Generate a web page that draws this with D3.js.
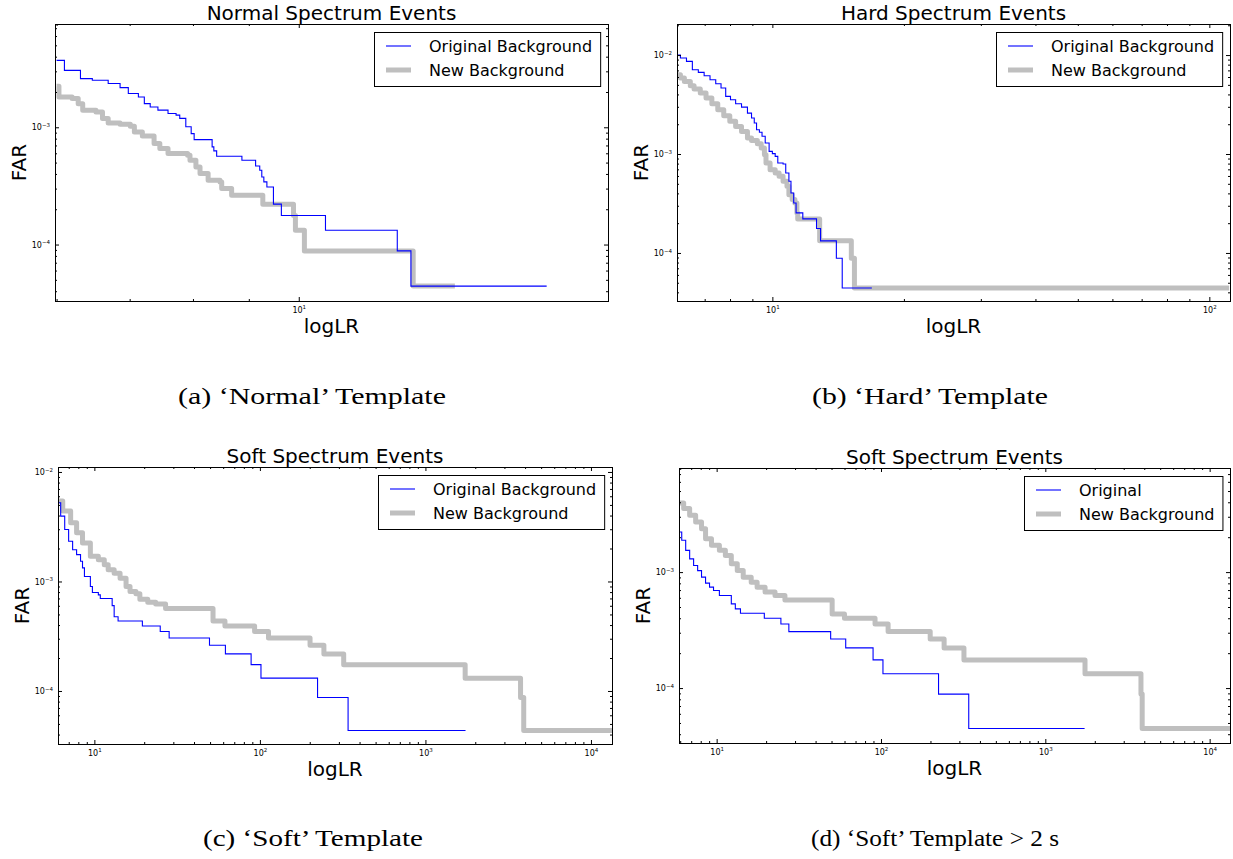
<!DOCTYPE html>
<html>
<head>
<meta charset="utf-8">
<script src="https://cdn.jsdelivr.net/npm/d3@7"></script>
<style>
body { margin: 0; background: #fff; }
svg { display: block; }
</style>
</head>
<body>
<svg id="fig" width="1233" height="859"></svg>
<script>
// [logLR, FAR] pairs, drawn as steps
var normalOriginal = [[6.00,3.72e-3],[6.10,3.06e-3],[6.31,2.60e-3],[6.47,2.52e-3],[6.69,2.36e-3],[6.86,2.18e-3],[6.98,1.94e-3],[7.13,1.81e-3],[7.22,1.59e-3],[7.31,1.49e-3],[7.43,1.40e-3],[7.59,1.31e-3],[7.72,1.27e-3],[7.78,1.19e-3],[7.88,1.01e-3],[7.97,8.83e-4],[8.02,7.85e-4],[8.33,6.80e-4],[8.36,6.29e-4],[8.41,5.66e-4],[8.87,5.23e-4],[9.13,4.68e-4],[9.21,4.30e-4],[9.25,3.77e-4],[9.29,3.42e-4],[9.35,3.10e-4],[9.48,2.21e-4],[9.64,1.77e-4],[10.58,1.325e-4],[12.31,8.83e-5],[12.67,4.42e-5],[16.87,4.42e-5]];
var normalNew = [[6.00,2.24e-3],[6.03,1.81e-3],[6.20,1.76e-3],[6.28,1.59e-3],[6.34,1.40e-3],[6.52,1.35e-3],[6.61,1.19e-3],[6.69,1.09e-3],[6.86,1.06e-3],[7.01,1.02e-3],[7.07,9.12e-4],[7.19,8.44e-4],[7.37,7.26e-4],[7.46,6.58e-4],[7.59,5.97e-4],[7.91,5.77e-4],[7.95,5.23e-4],[8.05,4.59e-4],[8.12,4.03e-4],[8.26,3.53e-4],[8.47,3.42e-4],[8.50,3.00e-4],[8.68,2.63e-4],[9.27,2.21e-4],[9.89,1.77e-4],[9.93,1.325e-4],[10.12,8.83e-5],[12.73,4.42e-5],[13.90,4.42e-5]];

var hardOriginal = [[6.05,1.0e-2],[6.16,9.33e-3],[6.36,8.63e-3],[6.56,7.11e-3],[6.77,6.68e-3],[6.98,6.18e-3],[7.20,5.63e-3],[7.42,5.13e-3],[7.63,4.64e-3],[7.82,3.82e-3],[8.02,3.54e-3],[8.24,3.22e-3],[8.50,2.98e-3],[8.77,2.59e-3],[8.96,2.31e-3],[9.09,2.06e-3],[9.20,1.76e-3],[9.34,1.66e-3],[9.47,1.51e-3],[9.63,1.29e-3],[9.83,1.064e-3],[10.0,1.008e-3],[10.15,9.47e-4],[10.29,8.11e-4],[10.58,7.92e-4],[10.73,6.43e-4],[10.91,5.30e-4],[11.03,4.04e-4],[11.19,3.20e-4],[11.33,2.54e-4],[11.74,2.21e-4],[12.62,1.77e-4],[12.89,1.325e-4],[14.01,8.83e-5],[14.45,4.42e-5],[16.89,4.42e-5]];
var hardNew = [[6.05,6.33e-3],[6.16,5.86e-3],[6.29,5.42e-3],[6.49,4.90e-3],[6.62,4.54e-3],[6.84,4.13e-3],[7.05,3.68e-3],[7.27,3.22e-3],[7.50,2.80e-3],[7.74,2.44e-3],[7.99,2.14e-3],[8.24,1.90e-3],[8.50,1.69e-3],[8.77,1.45e-3],[8.96,1.37e-3],[9.24,1.27e-3],[9.43,1.15e-3],[9.59,9.85e-4],[9.67,8.11e-4],[9.88,6.95e-4],[10.15,6.43e-4],[10.36,5.95e-4],[10.58,5.30e-4],[10.80,4.71e-4],[10.91,3.88e-4],[11.10,3.46e-4],[11.26,3.20e-4],[11.38,2.54e-4],[11.43,2.21e-4],[12.83,1.325e-4],[15.16,8.83e-5],[15.41,4.42e-5],[111.0,4.42e-5]];

var softOriginal = [[6.03,5.23e-3],[6.26,3.95e-3],[6.62,2.98e-3],[6.99,2.33e-3],[7.39,1.95e-3],[7.81,1.76e-3],[8.25,1.53e-3],[8.48,1.33e-3],[8.71,1.11e-3],[9.46,9.0e-4],[9.73,7.93e-4],[10.57,7.55e-4],[10.86,6.98e-4],[12.81,6.02e-4],[13.17,4.77e-4],[13.91,4.36e-4],[19.5,3.92e-4],[25.0,3.49e-4],[28.3,3.05e-4],[49.6,2.62e-4],[61.9,2.18e-4],[88.5,1.74e-4],[101.5,1.31e-4],[223,8.72e-5],[341,4.36e-5],[1747,4.36e-5]];
var softNew = [[6.03,5.42e-3],[6.44,4.39e-3],[7.19,3.43e-3],[7.81,2.78e-3],[8.48,2.25e-3],[9.46,1.70e-3],[10.57,1.58e-3],[11.48,1.42e-3],[12.12,1.28e-3],[13.17,1.19e-3],[14.30,1.07e-3],[15.54,9.0e-4],[16.42,8.1e-4],[17.83,7.71e-4],[18.83,6.89e-4],[21.02,6.46e-4],[23.48,6.24e-4],[26.93,5.67e-4],[52.1,4.36e-4],[61.5,3.92e-4],[92.9,3.49e-4],[112.7,3.05e-4],[200.9,2.62e-4],[243.6,2.18e-4],[320.8,1.74e-4],[1738,1.31e-4],[3755,8.72e-5],[3925,4.36e-5],[13400,4.36e-5]];

var softLongOriginal = [[5.9,2.22e-3],[6.13,1.88e-3],[6.48,1.54e-3],[6.85,1.30e-3],[7.24,1.14e-3],[7.66,1.03e-3],[8.09,9.05e-4],[8.56,8.03e-4],[9.05,7.42e-4],[9.57,6.94e-4],[10.39,6.28e-4],[12.28,5.32e-4],[12.99,4.82e-4],[13.96,4.42e-4],[19.5,4.0e-4],[24.6,3.57e-4],[27.5,3.07e-4],[49.4,2.65e-4],[61.0,2.22e-4],[89.5,1.75e-4],[102.8,1.33e-4],[224,8.87e-5],[342,4.48e-5],[1734,4.48e-5]];
var softLongNew = [[5.9,3.95e-3],[6.30,3.53e-3],[6.85,3.09e-3],[7.45,2.71e-3],[8.09,2.37e-3],[8.56,1.94e-3],[9.30,1.70e-3],[10.39,1.54e-3],[11.30,1.39e-3],[12.28,1.18e-3],[13.35,1.03e-3],[14.51,9.05e-4],[16.23,8.19e-4],[17.63,7.42e-4],[19.71,6.72e-4],[22.65,6.28e-4],[26.03,5.76e-4],[50.45,4.36e-4],[59.95,4.0e-4],[92.0,3.57e-4],[110.5,3.07e-4],[199.3,2.65e-4],[242.2,2.22e-4],[319.8,1.75e-4],[1744,1.33e-4],[3820,8.87e-5],[3886,4.48e-5],[13660,4.48e-5]];

var titles = ['Normal Spectrum Events', 'Hard Spectrum Events', 'Soft Spectrum Events', 'Soft Spectrum Events'];
var captions = ['(a) \u2018Normal\u2019 Template', '(b) \u2018Hard\u2019 Template', '(c) \u2018Soft\u2019 Template', '(d) \u2018Soft\u2019 Template > 2 s'];
var legendLabels = [
    ['Original Background', 'New Background'],
    ['Original Background', 'New Background'],
    ['Original Background', 'New Background'],
    ['Original', 'New Background']
];
var xMajorTicks = [[10], [10, 100], [10, 100, 1000, 10000], [10, 100, 1000, 10000]];
var yMajorTicks = [[1e-4, 1e-3], [1e-4, 1e-3, 1e-2], [1e-4, 1e-3, 1e-2], [1e-4, 1e-3]];
var xDomains = [[5.98, 19.2], [6.05, 111.5], [6.03, 13400], [5.9, 13300]];
var yDomains = [[3.3e-5, 7.6e-3], [3.27e-5, 2.06e-2], [3.28e-5, 1.11e-2], [3.36e-5, 7.9e-3]];
var originalSeries = [normalOriginal, hardOriginal, softOriginal, softLongOriginal];
var newSeries = [normalNew, hardNew, softNew, softLongNew];

var Layout = [
    { left: 55, top: 24, right: 608, bottom: 301, capX: 312, capY: 404, capW: 268 },
    { left: 677, top: 24, right: 1230, bottom: 301, capX: 930, capY: 404, capW: 236 },
    { left: 58, top: 467, right: 612, bottom: 744, capX: 313, capY: 846, capW: 220 },
    { left: 679, top: 468, right: 1230, bottom: 743, capX: 935, capY: 846, capW: 248 }
];

var BLUE = '#0000ff';
var GRAY = '#bfbfbf';
var SANS = 'DejaVu Sans, sans-serif';

var svg = d3.select('#fig');

function isPow10(v) {
    var l = Math.log10(v);
    return Math.abs(l - Math.round(l)) < 1e-9;
}

function powLabels(sel) {
    sel.selectAll('.tick text').each(function(d) {
        var e = Math.round(Math.log10(d));
        var t = d3.select(this).text(null);
        t.append('tspan').text('10');
        t.append('tspan').attr('dy', -3.5).attr('font-size', 5.5)
            .text(e < 0 ? '\u2212' + (-e) : String(e));
    });
}

function drawPanel(i) {
    var box = Layout[i];
    var g = svg.append('g');

    var x = d3.scaleLog().domain(xDomains[i]).range([box.left, box.right]);
    var y = d3.scaleLog().domain(yDomains[i]).range([box.bottom, box.top]);

    var clipId = 'clip' + i;
    svg.append('clipPath').attr('id', clipId)
        .append('rect')
        .attr('x', box.left).attr('y', box.top)
        .attr('width', box.right - box.left).attr('height', box.bottom - box.top);

    var line = d3.line()
        .x(d => x(d[0]))
        .y(d => y(d[1]))
        .curve(d3.curveStepAfter);

    var plot = g.append('g').attr('clip-path', 'url(#' + clipId + ')');
    plot.append('path')
        .attr('d', line(newSeries[i]))
        .attr('fill', 'none')
        .attr('stroke', GRAY)
        .attr('stroke-width', 5)
        .attr('stroke-linejoin', 'round');
    plot.append('path')
        .attr('d', line(originalSeries[i]))
        .attr('fill', 'none')
        .attr('stroke', BLUE)
        .attr('stroke-width', 1.1);

    // ticks on all four sides, pointing inward
    var xMinor = x.ticks().filter(v => !isPow10(v));
    var yMinor = y.ticks().filter(v => !isPow10(v));
    var xMajor = xMajorTicks[i];
    var yMajor = yMajorTicks[i];

    var sides = [
        { fn: d3.axisBottom, s: x, t: `translate(0,${box.bottom})`, major: xMajor, minor: xMinor, label: true, pad: 6 },
        { fn: d3.axisTop, s: x, t: `translate(0,${box.top})`, major: xMajor, minor: xMinor, label: false, pad: 0 },
        { fn: d3.axisLeft, s: y, t: `translate(${box.left},0)`, major: yMajor, minor: yMinor, label: true, pad: 5 },
        { fn: d3.axisRight, s: y, t: `translate(${box.right},0)`, major: yMajor, minor: yMinor, label: false, pad: 0 }
    ];
    sides.forEach(function(sd) {
        var minorAxis = sd.fn(sd.s).tickValues(sd.minor).tickSize(-2).tickFormat('');
        g.append('g').attr('transform', sd.t).call(minorAxis)
            .call(a => a.select('.domain').remove());
        var majorAxis = sd.fn(sd.s).tickValues(sd.major).tickSize(-4)
            .tickPadding(sd.pad).tickFormat(sd.label ? (d => d) : '');
        var ag = g.append('g').attr('transform', sd.t).call(majorAxis)
            .call(a => a.select('.domain').remove())
            .attr('font-family', SANS)
            .attr('font-size', 8);
        if (sd.label) ag.call(powLabels);
    });

    g.append('rect')
        .attr('x', box.left + 0.5).attr('y', box.top + 0.5)
        .attr('width', box.right - box.left).attr('height', box.bottom - box.top)
        .attr('fill', 'none')
        .attr('stroke', '#000')
        .attr('stroke-width', 1);

    // title and axis labels
    g.append('text')
        .attr('x', (box.left + box.right) / 2).attr('y', box.top - 4)
        .attr('text-anchor', 'middle')
        .attr('font-family', SANS).attr('font-size', 20)
        .text(titles[i]);
    g.append('text')
        .attr('x', (box.left + box.right) / 2).attr('y', box.bottom + 32)
        .attr('text-anchor', 'middle')
        .attr('font-family', SANS).attr('font-size', 20)
        .text('logLR');
    g.append('text')
        .attr('transform', `translate(${box.left - 29},${(box.top + box.bottom) / 2}) rotate(-90)`)
        .attr('text-anchor', 'middle')
        .attr('font-family', SANS).attr('font-size', 20)
        .text('FAR');

    // legend
    var leg = g.append('g');
    var texts = legendLabels[i].map(function(lbl, k) {
        return leg.append('text')
            .attr('y', 14 + k * 24).attr('dy', '0.35em')
            .attr('x', 55)
            .attr('font-family', SANS).attr('font-size', 16)
            .text(lbl);
    });
    var maxW = d3.max(texts, t => t.node().getComputedTextLength());
    var legW = 55 + maxW + 8;
    leg.insert('rect', ':first-child')
        .attr('x', 0.5).attr('y', 0.5)
        .attr('width', legW).attr('height', 54)
        .attr('fill', '#fff').attr('stroke', '#000').attr('stroke-width', 1);
    [[BLUE, 1.1], [GRAY, 5]].forEach(function(st, k) {
        leg.append('line')
            .attr('x1', 12).attr('x2', 37)
            .attr('y1', 14 + k * 24).attr('y2', 14 + k * 24)
            .attr('stroke', st[0]).attr('stroke-width', st[1]);
    });
    leg.attr('transform', `translate(${Math.round(box.right - 8 - legW)},${box.top + 8})`);

    // caption
    svg.append('text')
        .attr('x', box.capX).attr('y', box.capY)
        .attr('text-anchor', 'middle')
        .attr('font-family', 'Liberation Serif, serif').attr('font-size', 23)
        .attr('textLength', box.capW)
        .attr('lengthAdjust', 'spacingAndGlyphs')
        .text(captions[i]);
}

for (var i = 0; i < 4; i++) drawPanel(i);
</script>
</body>
</html>
